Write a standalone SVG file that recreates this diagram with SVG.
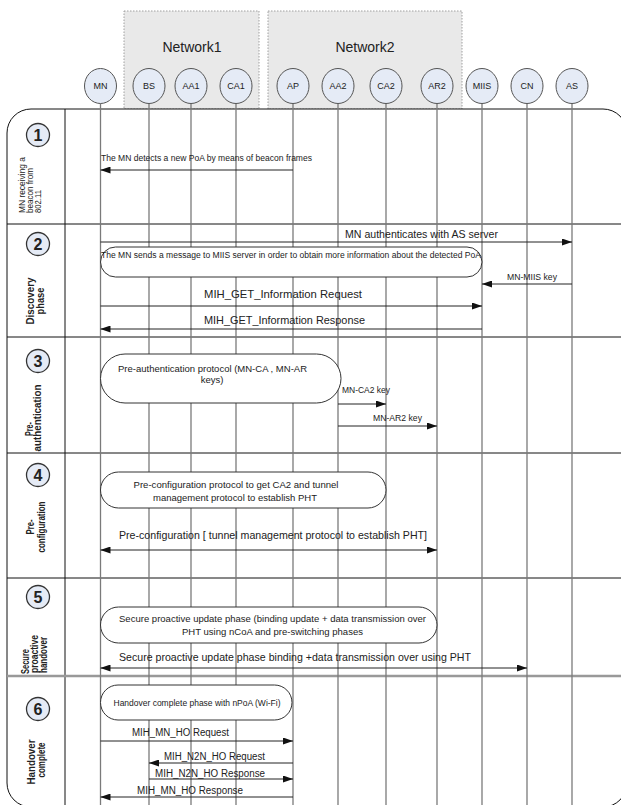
<svg xmlns="http://www.w3.org/2000/svg" width="621" height="805" viewBox="0 0 621 805">
<style>
text{font-family:"Liberation Sans",Arial,sans-serif;fill:#222}
.net{fill:#e9e9e9;stroke:#a0a0a0;stroke-width:1;stroke-dasharray:1.5 1.5}
.netl{font-size:14px;text-anchor:middle}
.node{fill:#e5ebf6;stroke:#555;stroke-width:1}
.nl{font-size:9px;text-anchor:middle}
.life{stroke:#7a7a7a;stroke-width:1.3}
.sep{stroke:#111;stroke-width:1}
.pc{fill:#e5ebf6;stroke:#333;stroke-width:1.3}
.pn{font-size:16px;font-weight:bold;text-anchor:middle}
.pl{font-size:10px;font-weight:bold}
.pr{font-size:9.5px}
.pill{fill:#fff;stroke:#333;stroke-width:1}
.m{stroke:#222;stroke-width:1;fill:none}
.ar{marker-end:url(#ah)}
.da{marker-start:url(#ah);marker-end:url(#ah)}
</style>
<defs>
<marker id="ah" markerUnits="userSpaceOnUse" markerWidth="10" markerHeight="7" refX="10" refY="3.5" orient="auto-start-reverse"><path d="M0,0 L10,3.5 L0,7 z" fill="#111"/></marker>
</defs>
<g id="networks">
<rect class="net" x="124" y="11" width="135" height="98"/>
<text class="netl" x="192" y="52">Network1</text>
<rect class="net" x="268" y="11" width="194" height="98"/>
<text class="netl" x="365" y="52">Network2</text>
</g>
<g id="frame">
<rect x="7" y="109" width="620" height="698" rx="24" fill="#fff" stroke="#111" stroke-width="1"/>
<line class="sep" x1="65" y1="109" x2="65" y2="805"/>
<line class="sep" x1="7" y1="224" x2="621" y2="224"/>
<line class="sep" x1="7" y1="337" x2="621" y2="337"/>
<line class="sep" x1="7" y1="453" x2="621" y2="453"/>
<line class="sep" x1="7" y1="578" x2="621" y2="578"/>
<line x1="7" y1="676" x2="621" y2="676" stroke="#999" stroke-width="2.5"/>
</g>
<g id="node-MN"><line class="life" x1="100.5" y1="103.5" x2="100.5" y2="805"/><ellipse class="node" cx="100.5" cy="86" rx="16" ry="17.5"/><text class="nl" x="100.5" y="89">MN</text></g>
<g id="node-BS"><line class="life" x1="149" y1="103.5" x2="149" y2="805"/><ellipse class="node" cx="149" cy="86" rx="16" ry="17.5"/><text class="nl" x="149" y="89">BS</text></g>
<g id="node-AA1"><line class="life" x1="191" y1="103.5" x2="191" y2="805"/><ellipse class="node" cx="191" cy="86" rx="16" ry="17.5"/><text class="nl" x="191" y="89">AA1</text></g>
<g id="node-CA1"><line class="life" x1="236" y1="103.5" x2="236" y2="805"/><ellipse class="node" cx="236" cy="86" rx="16" ry="17.5"/><text class="nl" x="236" y="89">CA1</text></g>
<g id="node-AP"><line class="life" x1="293" y1="103.5" x2="293" y2="805"/><ellipse class="node" cx="293" cy="86" rx="16" ry="17.5"/><text class="nl" x="293" y="89">AP</text></g>
<g id="node-AA2"><line class="life" x1="338" y1="103.5" x2="338" y2="805"/><ellipse class="node" cx="338" cy="86" rx="16" ry="17.5"/><text class="nl" x="338" y="89">AA2</text></g>
<g id="node-CA2"><line class="life" x1="386" y1="103.5" x2="386" y2="805"/><ellipse class="node" cx="386" cy="86" rx="16" ry="17.5"/><text class="nl" x="386" y="89">CA2</text></g>
<g id="node-AR2"><line class="life" x1="437" y1="103.5" x2="437" y2="805"/><ellipse class="node" cx="437" cy="86" rx="16" ry="17.5"/><text class="nl" x="437" y="89">AR2</text></g>
<g id="node-MIIS"><line class="life" x1="482" y1="103.5" x2="482" y2="805"/><ellipse class="node" cx="482" cy="86" rx="16" ry="17.5"/><text class="nl" x="482" y="89">MIIS</text></g>
<g id="node-CN"><line class="life" x1="527" y1="103.5" x2="527" y2="805"/><ellipse class="node" cx="527" cy="86" rx="16" ry="17.5"/><text class="nl" x="527" y="89">CN</text></g>
<g id="node-AS"><line class="life" x1="572" y1="103.5" x2="572" y2="805"/><ellipse class="node" cx="572" cy="86" rx="16" ry="17.5"/><text class="nl" x="572" y="89">AS</text></g>

<g id="phase1">
<circle class="pc" cx="38" cy="135" r="11.5"/><text class="pn" x="38" y="140.5">1</text>
<text class="pr" transform="translate(25,213) rotate(-90)" textLength="56" lengthAdjust="spacingAndGlyphs">MN receiving a</text>
<text class="pr" transform="translate(33,213) rotate(-90)" textLength="45" lengthAdjust="spacingAndGlyphs">beacon from</text>
<text class="pr" transform="translate(41,213) rotate(-90)" textLength="23" lengthAdjust="spacingAndGlyphs">802.11</text>
</g>
<g id="phase2">
<circle class="pc" cx="38" cy="244" r="11.5"/><text class="pn" x="38" y="249.5">2</text>
<text class="pl" text-anchor="middle" transform="translate(34,301) rotate(-90)" textLength="47" lengthAdjust="spacingAndGlyphs">Discovery</text>
<text class="pl" text-anchor="middle" transform="translate(43.5,301) rotate(-90)" textLength="27" lengthAdjust="spacingAndGlyphs">phase</text>
<rect id="box-discovery" class="pill" x="100.5" y="247" width="381.5" height="30" rx="15"/>
<text x="101" y="258" font-size="8.5" textLength="380" lengthAdjust="spacingAndGlyphs">The MN sends a message to MIIS server in order to obtain more information about the detected PoA</text>
</g>
<g id="phase3">
<circle class="pc" cx="38" cy="361" r="11.5"/><text class="pn" x="38" y="366.5">3</text>
<text class="pl" text-anchor="middle" transform="translate(32.5,429) rotate(-90)" textLength="14" lengthAdjust="spacingAndGlyphs">Pre-</text>
<text class="pl" text-anchor="middle" transform="translate(41,418) rotate(-90)" textLength="67" lengthAdjust="spacingAndGlyphs">authentication</text>
<rect id="box-preauth" class="pill" x="100.5" y="354" width="240.5" height="49" rx="24.5"/>
<text x="212.5" y="372" font-size="9.5" text-anchor="middle" textLength="189" lengthAdjust="spacingAndGlyphs">Pre-authentication protocol (MN-CA , MN-AR</text>
<text x="212" y="383" font-size="9.5" text-anchor="middle">keys)</text>
</g>
<g id="phase4">
<circle class="pc" cx="38" cy="475" r="11.5"/><text class="pn" x="38" y="480.5">4</text>
<text class="pl" text-anchor="middle" transform="translate(33.5,527) rotate(-90)" textLength="15" lengthAdjust="spacingAndGlyphs">Pre-</text>
<text class="pl" text-anchor="middle" transform="translate(44.5,527) rotate(-90)" textLength="51" lengthAdjust="spacingAndGlyphs">configuration</text>
<rect id="box-preconf" class="pill" x="100.5" y="472" width="285.5" height="36" rx="18"/>
<text x="236" y="487.5" font-size="9.5" text-anchor="middle" textLength="205" lengthAdjust="spacingAndGlyphs">Pre-configuration protocol to get CA2 and tunnel</text>
<text x="235" y="500.5" font-size="9.5" text-anchor="middle" textLength="164" lengthAdjust="spacingAndGlyphs">management protocol to establish PHT</text>
</g>
<g id="phase5">
<circle class="pc" cx="38" cy="597" r="11.5"/><text class="pn" x="38" y="602.5">5</text>
<text class="pl" transform="translate(29,674) rotate(-90)" textLength="25" lengthAdjust="spacingAndGlyphs">Secure</text>
<text class="pl" transform="translate(38,673) rotate(-90)" textLength="38" lengthAdjust="spacingAndGlyphs">proactive</text>
<text class="pl" transform="translate(46.5,673) rotate(-90)" textLength="36" lengthAdjust="spacingAndGlyphs">handover</text>
<rect id="box-secure" class="pill" x="100.5" y="607" width="336.5" height="36" rx="18"/>
<text x="272.5" y="621.5" font-size="9" text-anchor="middle" textLength="307" lengthAdjust="spacingAndGlyphs">Secure proactive update phase (binding update + data transmission over</text>
<text x="272.5" y="634.5" font-size="9" text-anchor="middle" textLength="181" lengthAdjust="spacingAndGlyphs">PHT using nCoA and pre-switching phases</text>
</g>
<g id="phase6">
<circle class="pc" cx="38" cy="709" r="11.5"/><text class="pn" x="38" y="714.5">6</text>
<text class="pl" text-anchor="middle" transform="translate(34.5,762) rotate(-90)" textLength="45" lengthAdjust="spacingAndGlyphs">Handover</text>
<text class="pl" text-anchor="middle" transform="translate(44.5,760) rotate(-90)" textLength="35" lengthAdjust="spacingAndGlyphs">complete</text>
<rect id="box-handover" class="pill" x="100.5" y="685" width="191.5" height="35" rx="17.5"/>
<text x="197" y="706" font-size="9.5" text-anchor="middle" textLength="167" lengthAdjust="spacingAndGlyphs">Handover complete phase with nPoA (Wi-Fi)</text>
</g>

<g id="connectors">
<line class="m ar" x1="293" y1="170" x2="100.5" y2="170"/>
<text x="101" y="160.5" font-size="9" textLength="211" lengthAdjust="spacingAndGlyphs">The MN detects a new PoA by means of beacon frames</text>

<line class="m ar" x1="100.5" y1="242" x2="572" y2="242"/>
<text x="345" y="238" font-size="11.5" textLength="153" lengthAdjust="spacingAndGlyphs">MN authenticates with AS server</text>
<line class="m ar" x1="572" y1="284" x2="482" y2="284"/>
<text x="507" y="280" font-size="8.5" textLength="50" lengthAdjust="spacingAndGlyphs">MN-MIIS key</text>
<line class="m ar" x1="100.5" y1="306" x2="482" y2="306"/>
<text x="204" y="298" font-size="11.5" textLength="158" lengthAdjust="spacingAndGlyphs">MIH_GET_Information Request</text>
<line class="m ar" x1="482" y1="329" x2="100.5" y2="329"/>
<text x="204" y="324" font-size="11.5" textLength="161" lengthAdjust="spacingAndGlyphs">MIH_GET_Information Response</text>

<line class="m ar" x1="338" y1="404" x2="386" y2="404"/>
<text x="342" y="393" font-size="8.5" textLength="48" lengthAdjust="spacingAndGlyphs">MN-CA2 key</text>
<line class="m ar" x1="338" y1="426" x2="437" y2="426"/>
<text x="373" y="421" font-size="8.5" textLength="49" lengthAdjust="spacingAndGlyphs">MN-AR2 key</text>

<line class="m da" x1="100.5" y1="550" x2="437" y2="550"/>
<text x="119" y="539" font-size="11.5" textLength="308" lengthAdjust="spacingAndGlyphs">Pre-configuration [ tunnel management protocol to establish PHT]</text>

<line class="m da" x1="100.5" y1="668" x2="527" y2="668"/>
<text x="119" y="661" font-size="11" textLength="352" lengthAdjust="spacingAndGlyphs">Secure proactive update phase binding +data transmission over using PHT</text>

<line class="m ar" x1="100.5" y1="741" x2="293" y2="741"/>
<text x="132" y="736" font-size="10" textLength="97" lengthAdjust="spacingAndGlyphs">MIH_MN_HO Request</text>
<line class="m ar" x1="293" y1="763" x2="149" y2="763"/>
<text x="164" y="760" font-size="10" textLength="101" lengthAdjust="spacingAndGlyphs">MIH_N2N_HO Request</text>
<line class="m ar" x1="149" y1="779" x2="293" y2="779"/>
<text x="155" y="777" font-size="10" textLength="110" lengthAdjust="spacingAndGlyphs">MIH_N2N_HO Response</text>
<line class="m ar" x1="293" y1="797" x2="100.5" y2="797"/>
<text x="137" y="794" font-size="10" textLength="106" lengthAdjust="spacingAndGlyphs">MIH_MN_HO Response</text>
</g>
</svg>
